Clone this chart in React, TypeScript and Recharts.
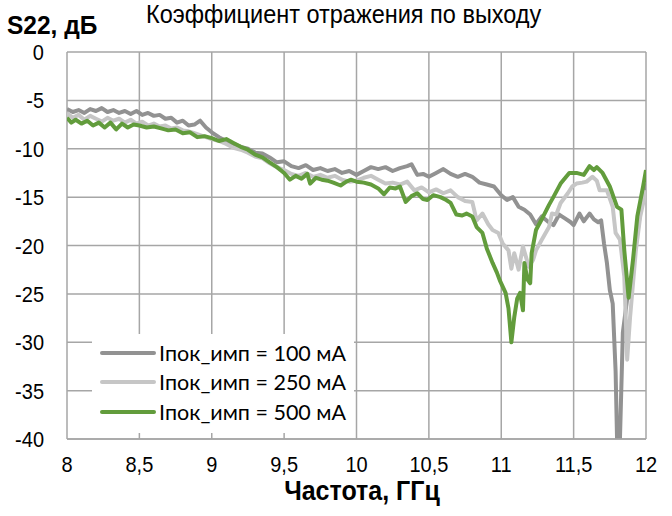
import React from "react";
import { LineChart, Line, XAxis, YAxis, CartesianGrid, Legend } from "recharts";

const xTicks = [8, 8.5, 9, 9.5, 10, 10.5, 11, 11.5, 12];
const yTicks = [0, -5, -10, -15, -20, -25, -30, -35, -40];

const seriesNames = ["Iпок_имп = 100 мА", "Iпок_имп = 250 мА", "Iпок_имп = 500 мА"];

const freq100 = [8.00, 8.04, 8.08, 8.12, 8.16, 8.20, 8.24, 8.28, 8.32, 8.36, 8.40, 8.44, 8.48, 8.52, 8.56, 8.60, 8.64, 8.68, 8.72, 8.76, 8.80, 8.84, 8.88, 8.92, 8.96, 9.00, 9.05, 9.10, 9.15, 9.20, 9.25, 9.30, 9.35, 9.40, 9.45, 9.50, 9.55, 9.60, 9.65, 9.70, 9.75, 9.80, 9.85, 9.90, 9.95, 10.00, 10.05, 10.10, 10.15, 10.20, 10.25, 10.30, 10.35, 10.38, 10.42, 10.46, 10.50, 10.55, 10.60, 10.65, 10.70, 10.75, 10.80, 10.85, 10.90, 10.95, 11.00, 11.04, 11.08, 11.12, 11.16, 11.20, 11.24, 11.28, 11.32, 11.36, 11.40, 11.44, 11.48, 11.50, 11.54, 11.57, 11.61, 11.64, 11.67, 11.69, 11.71, 11.73, 11.75, 11.77, 11.79, 11.80, 11.82, 11.84, 11.87, 11.90, 11.94, 11.97, 12.00];
const s22_100 = [-5.9, -6.2, -6.0, -6.3, -5.9, -6.1, -5.8, -6.2, -6.0, -6.3, -6.1, -6.4, -6.1, -6.5, -6.3, -6.6, -6.5, -6.9, -6.8, -7.3, -7.1, -7.6, -7.5, -7.1, -7.8, -8.3, -8.8, -9.2, -9.5, -9.8, -10.0, -10.4, -10.5, -10.9, -11.4, -11.3, -11.8, -12.0, -11.7, -12.2, -12.0, -12.3, -12.1, -12.5, -12.3, -12.7, -12.3, -11.9, -12.1, -11.9, -12.3, -12.0, -11.8, -11.6, -12.7, -12.6, -12.9, -12.5, -12.1, -12.6, -12.9, -12.6, -12.9, -13.5, -13.7, -13.9, -14.8, -15.3, -15.0, -16.0, -16.3, -16.8, -17.8, -17.0, -17.5, -17.9, -16.8, -17.2, -17.6, -17.9, -16.7, -17.5, -16.7, -17.3, -17.6, -17.4, -19.8, -21.8, -24.6, -26.0, -33.0, -40.0, -40.0, -29.0, -25.5, -23.5, -18.7, -15.5, -13.6];

const freq250 = [8.00, 8.04, 8.08, 8.12, 8.16, 8.20, 8.24, 8.28, 8.32, 8.36, 8.40, 8.44, 8.48, 8.52, 8.56, 8.60, 8.64, 8.68, 8.72, 8.76, 8.80, 8.84, 8.88, 8.92, 8.96, 9.00, 9.05, 9.10, 9.15, 9.20, 9.25, 9.30, 9.35, 9.40, 9.45, 9.50, 9.55, 9.60, 9.65, 9.70, 9.75, 9.80, 9.85, 9.90, 9.95, 10.00, 10.05, 10.10, 10.15, 10.20, 10.25, 10.30, 10.35, 10.40, 10.45, 10.50, 10.55, 10.60, 10.65, 10.70, 10.75, 10.80, 10.83, 10.87, 10.91, 10.94, 10.98, 11.01, 11.05, 11.07, 11.09, 11.12, 11.15, 11.19, 11.22, 11.24, 11.28, 11.33, 11.35, 11.38, 11.41, 11.46, 11.49, 11.52, 11.56, 11.59, 11.63, 11.66, 11.68, 11.73, 11.77, 11.79, 11.82, 11.85, 11.87, 11.89, 11.93, 11.96, 12.00];
const s22_250 = [-6.3, -6.8, -6.5, -7.0, -6.6, -6.9, -7.2, -6.8, -7.1, -6.9, -7.3, -7.0, -7.4, -7.2, -7.6, -7.4, -7.7, -7.6, -7.9, -7.8, -8.1, -8.2, -8.4, -8.6, -8.8, -9.0, -9.2, -9.5, -9.9, -10.1, -10.4, -10.8, -11.0, -11.5, -11.9, -12.2, -12.6, -12.8, -12.5, -12.9, -12.7, -13.0, -12.8, -13.2, -13.4, -13.3, -13.0, -12.8, -13.2, -13.6, -13.5, -13.7, -13.4, -14.3, -14.0, -14.5, -14.2, -14.6, -14.3, -15.0, -15.4, -15.5, -17.4, -16.7, -17.8, -18.4, -18.7, -19.8, -20.5, -22.4, -20.8, -22.5, -20.1, -22.2, -21.5, -20.5, -19.4, -18.1, -16.7, -16.8, -15.6, -14.6, -13.9, -13.6, -13.5, -13.4, -12.9, -13.3, -14.3, -14.3, -16.0, -18.7, -19.4, -23.2, -31.8, -27.4, -20.5, -17.0, -14.3];

const freq500 = [8.00, 8.03, 8.06, 8.10, 8.14, 8.18, 8.22, 8.26, 8.30, 8.34, 8.38, 8.42, 8.46, 8.50, 8.55, 8.60, 8.65, 8.70, 8.75, 8.80, 8.85, 8.90, 8.95, 9.00, 9.05, 9.10, 9.15, 9.20, 9.25, 9.30, 9.35, 9.40, 9.45, 9.50, 9.54, 9.58, 9.62, 9.66, 9.68, 9.72, 9.76, 9.80, 9.84, 9.89, 9.93, 9.96, 10.00, 10.05, 10.10, 10.15, 10.19, 10.23, 10.27, 10.30, 10.34, 10.38, 10.42, 10.46, 10.49, 10.53, 10.58, 10.62, 10.65, 10.69, 10.73, 10.76, 10.80, 10.83, 10.87, 10.90, 10.94, 10.97, 10.99, 11.03, 11.05, 11.07, 11.09, 11.11, 11.13, 11.15, 11.16, 11.18, 11.20, 11.21, 11.24, 11.29, 11.33, 11.36, 11.41, 11.47, 11.52, 11.57, 11.61, 11.64, 11.66, 11.70, 11.75, 11.80, 11.83, 11.85, 11.88, 11.91, 11.94, 11.98, 12.00];
const s22_500 = [-6.8, -7.3, -7.0, -7.4, -7.1, -7.6, -7.3, -7.8, -7.3, -8.0, -7.4, -7.8, -7.5, -7.6, -7.8, -7.7, -7.9, -8.1, -8.0, -8.4, -8.3, -8.8, -8.7, -8.9, -9.2, -9.0, -9.4, -9.8, -10.1, -10.6, -10.9, -11.4, -11.9, -12.5, -13.2, -12.8, -13.1, -12.6, -13.6, -13.0, -13.2, -13.3, -13.5, -13.8, -13.4, -13.2, -13.4, -13.5, -13.7, -14.1, -14.7, -14.0, -14.1, -13.9, -15.5, -14.9, -14.6, -15.2, -15.3, -14.8, -15.0, -15.3, -15.6, -16.8, -16.9, -16.7, -17.0, -18.1, -18.7, -20.3, -21.8, -22.8, -23.6, -24.9, -26.5, -30.0, -27.4, -25.5, -24.9, -26.7, -21.8, -23.5, -23.9, -20.8, -18.4, -17.0, -15.8, -15.0, -13.6, -12.5, -12.5, -12.7, -11.8, -12.2, -11.9, -12.5, -13.9, -16.0, -16.3, -20.5, -25.4, -21.5, -17.0, -13.9, -12.2];

const toData = (fs: number[], vs: number[]) => fs.map((f, i) => ({ f, v: vs[i] }));
const d100 = toData(freq100, s22_100);
const d250 = toData(freq250, s22_250);
const d500 = toData(freq500, s22_500);

const colors = ["#929292", "#c6c6c6", "#629c3c"];

const font = "'Liberation Sans', Arial, sans-serif";

const YTick = (props: any) => {
  const { x, y, payload } = props;
  return (
    <g transform={`translate(${x},${y})`}>
      <text transform="scale(1,1.12)" textAnchor="end" dy="0.36em" fill="#000" fontSize={20} fontFamily={font}>
        {String(payload.value)}
      </text>
    </g>
  );
};

const XTick = (props: any) => {
  const { x, y, payload } = props;
  return (
    <g transform={`translate(${x},${y})`}>
      <text transform="scale(1,1.12)" textAnchor="middle" dy="0.71em" fill="#000" fontSize={20} fontFamily={font}>
        {String(payload.value).replace(".", ",")}
      </text>
    </g>
  );
};

const LegendBox = () => (
  <div style={{ background: "#fff", padding: "4px 8px 6px 8px", fontFamily: "Lato, 'Open Sans', sans-serif", fontSize: 21.5, color: "#000", whiteSpace: "nowrap" }}>
    {seriesNames.map((n, i) => (
      <div key={n} style={{ display: "flex", alignItems: "center", height: 29.5 }}>
        <div style={{ width: 56, height: 4, background: colors[i], marginRight: 3, borderRadius: 2 }} />
        <span>{n}</span>
      </div>
    ))}
  </div>
);

export default function App() {
  return (
    <div style={{ position: "absolute", left: 0, top: 0, width: 672, height: 516, background: "#fff", overflow: "hidden" }}>
      <LineChart width={672} height={516} margin={{ top: 52, right: 26, bottom: 47, left: 0 }}>
        <CartesianGrid stroke="#a6a6a6" strokeWidth={1.5} />
        <XAxis
          type="number"
          dataKey="f"
          domain={[8, 12]}
          ticks={xTicks}
          allowDataOverflow
          height={30}
          tickLine={false}
          tickSize={0}
          tickMargin={17}
          axisLine={{ stroke: "#a6a6a6", strokeWidth: 1.5 }}
          tick={<XTick />}
        />
        <YAxis
          type="number"
          domain={[-40, 0]}
          ticks={yTicks}
          allowDataOverflow
          width={67}
          tickLine={false}
          axisLine={false}
          tickSize={0}
          tickMargin={23}
          tick={<YTick />}
        />
        <Legend
          layout="vertical"
          align="center"
          verticalAlign="middle"
          wrapperStyle={{ left: 92, top: 334, width: "auto" }}
          content={() => <LegendBox />}
        />
        <Line data={d100} dataKey="v" name={seriesNames[0]} stroke={colors[0]} strokeWidth={4} dot={false} isAnimationActive={false} strokeLinejoin="round" />
        <Line data={d250} dataKey="v" name={seriesNames[1]} stroke={colors[1]} strokeWidth={4} dot={false} isAnimationActive={false} strokeLinejoin="round" />
        <Line data={d500} dataKey="v" name={seriesNames[2]} stroke={colors[2]} strokeWidth={4} dot={false} isAnimationActive={false} strokeLinejoin="round" />
      </LineChart>
      <div style={{ position: "absolute", left: 7, top: 10, fontFamily: font, fontWeight: "bold", fontSize: 25, color: "#000", transform: "scale(0.98,1.06)", transformOrigin: "left top", whiteSpace: "nowrap" }}>S22, дБ</div>
      <div style={{ position: "absolute", left: 146, top: 0, fontFamily: font, fontSize: 23.5, color: "#000", transform: "scaleY(1.08)", transformOrigin: "left top", whiteSpace: "nowrap" }}>Коэффициент отражения по выходу</div>
      <div style={{ position: "absolute", left: 0, width: 724, top: 474, textAlign: "center", fontFamily: font, fontWeight: "bold", fontSize: 25, color: "#000", transform: "scaleY(1.12)", transformOrigin: "center top", whiteSpace: "nowrap" }}>Частота, ГГц</div>
    </div>
  );
}
